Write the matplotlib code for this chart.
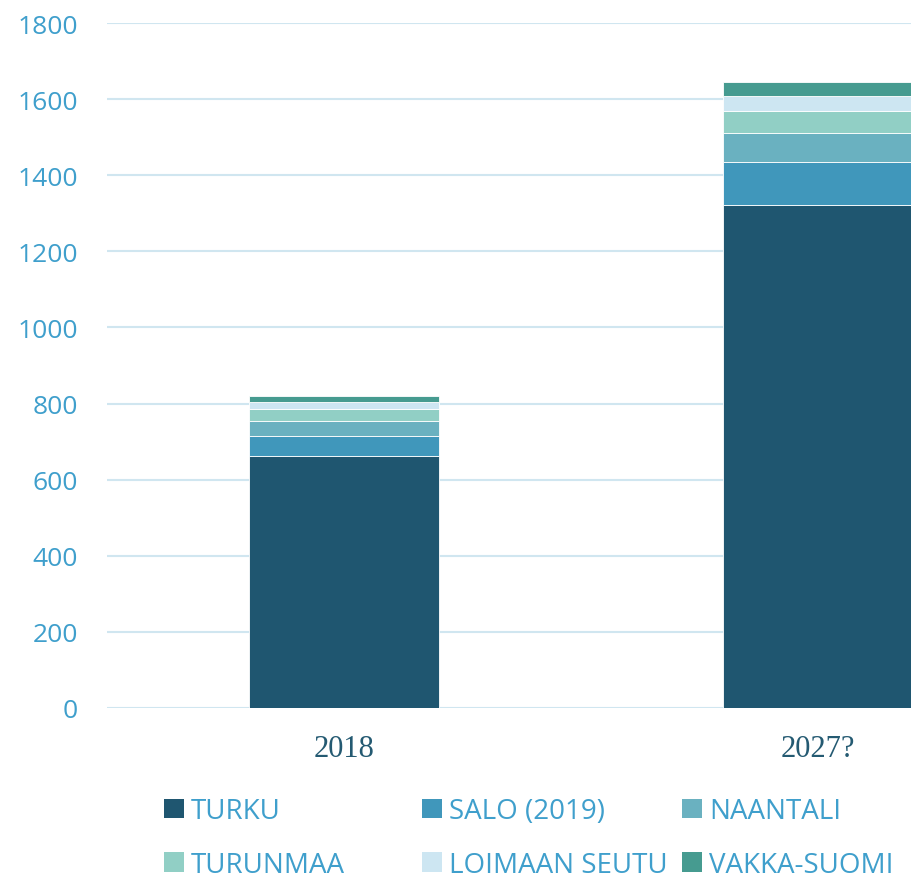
import matplotlib
matplotlib.use("Agg")
import matplotlib.pyplot as plt
from matplotlib.patches import Patch
import numpy as np

categories = ["2018", "2027?"]
series_names = ["TURKU", "SALO (2019)", "NAANTALI", "TURUNMAA", "LOIMAAN SEUTU", "VAKKA-SUOMI"]
turku = [661, 1323]
salo = [55, 112]
naantali = [37, 75]
turunmaa = [32, 60]
loimaa = [18, 37]
vakka = [18, 37]
yticks = [0, 200, 400, 600, 800, 1000, 1200, 1400, 1600, 1800]

colors = ["#1f5670", "#4097bb", "#6ab1c0", "#91cfc5", "#cde6f2", "#469b90"]
text_color = "#3f9fcc"

fig = plt.figure(figsize=(9.12, 8.79), dpi=100)
ax = fig.add_axes([107/912, 170/879, 1 - 107/912, (709-24)/879])

x = np.arange(len(categories))
bottom = np.zeros(len(categories))
series = [turku, salo, naantali, turunmaa, loimaa, vakka]
for name, vals, c in zip(series_names, series, colors):
    ax.bar(x, vals, width=0.4, bottom=bottom, color=c, label=name,
           edgecolor="white", linewidth=0.6, zorder=3)
    bottom += np.array(vals)

ax.set_ylim(0, 1800)
ax.set_xlim(-0.5, -0.5 + 805/474)
ax.set_yticks(yticks)
ax.set_yticklabels([str(v) for v in yticks], fontsize=19, color=text_color,
                   fontfamily="Open Sans")
ax.set_xticks(x)
ax.set_xticklabels(categories, fontsize=22, color="#245a72", fontfamily="Liberation Serif")
ax.tick_params(axis="y", length=0, pad=21)
ax.tick_params(axis="x", length=0, pad=19)
ax.grid(axis="y", color="#d0e6f0", linewidth=1.5, zorder=0)
for s in ax.spines.values():
    s.set_visible(False)

# legend: three columns, two rows
handles = [Patch(facecolor=c, edgecolor="none") for c in colors]
col_x = [153/912, 411/912, 671/912]
for i in range(3):
    hs = [handles[i], handles[i+3]]
    ls = [series_names[i], series_names[i+3]]
    leg = fig.legend(hs, ls, loc="upper left", bbox_to_anchor=(col_x[i], 92/879),
                     frameon=False, handlelength=0.72, handleheight=0.72,
                     handletextpad=0.25, labelspacing=0.92, borderaxespad=0,
                     prop={"family": "Open Sans", "size": 20})
    for t in leg.get_texts():
        t.set_color(text_color)

fig.savefig("out.png", dpi=100)
